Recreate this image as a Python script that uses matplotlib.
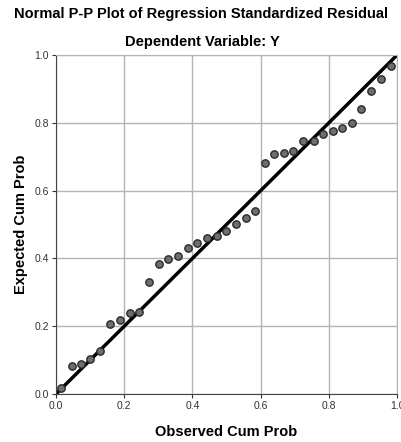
import matplotlib.pyplot as plt

plt.rcParams['font.family'] = ['Liberation Sans', 'DejaVu Sans']

observed = [0.015, 0.046, 0.073, 0.101, 0.130, 0.158, 0.188, 0.216, 0.244, 0.273,
            0.301, 0.329, 0.357, 0.386, 0.414, 0.442, 0.471, 0.499, 0.528, 0.556,
            0.584, 0.612, 0.640, 0.669, 0.696, 0.725, 0.755, 0.782, 0.811, 0.839,
            0.867, 0.895, 0.924, 0.952, 0.982]
expected = [0.017, 0.082, 0.088, 0.104, 0.127, 0.206, 0.218, 0.240, 0.242, 0.330,
            0.383, 0.397, 0.408, 0.430, 0.446, 0.460, 0.466, 0.480, 0.501, 0.518,
            0.540, 0.681, 0.707, 0.710, 0.718, 0.747, 0.747, 0.766, 0.775, 0.786,
            0.799, 0.840, 0.893, 0.928, 0.968]
ticks = [0.0, 0.2, 0.4, 0.6, 0.8, 1.0]
tick_labels = ['0.0', '0.2', '0.4', '0.6', '0.8', '1.0']

fig = plt.figure(figsize=(4.01, 4.42), dpi=100)
ax = fig.add_axes([0.1397, 0.1086, 0.8506, 0.767])

ax.grid(True, color='#b4b4b4', lw=1.0)
ax.set_axisbelow(True)
ax.plot([0, 1], [0, 1], color='black', lw=2.5, zorder=2)
ax.scatter(observed, expected, s=28, facecolor='#6e6e6e', edgecolor='#2a2a2a',
           lw=1.0, zorder=3)

ax.set_xlim(0, 1)
ax.set_ylim(0, 1)
ax.set_xticks(ticks)
ax.set_xticklabels(tick_labels)
ax.set_yticks(ticks)
ax.set_yticklabels(tick_labels)
ax.tick_params(labelsize=7.5, colors='#333333', length=3, width=0.8, pad=2)
for side in ['top', 'right']:
    ax.spines[side].set_color('#b4b4b4')
for side in ['left', 'bottom']:
    ax.spines[side].set_color('#444444')

ax.set_xlabel('Observed Cum Prob', fontsize=10.5, fontweight='bold', labelpad=10)
ax.set_ylabel('Expected Cum Prob', fontsize=10.5, fontweight='bold', labelpad=5)

fig.text(0.5, 1 - 14 / 442, 'Normal P-P Plot of Regression Standardized Residual',
         ha='center', va='center', fontsize=10.5, fontweight='bold')
fig.text(0.505, 1 - 42 / 442, 'Dependent Variable: Y',
         ha='center', va='center', fontsize=10.5, fontweight='bold')

plt.savefig('out.png', dpi=100)
